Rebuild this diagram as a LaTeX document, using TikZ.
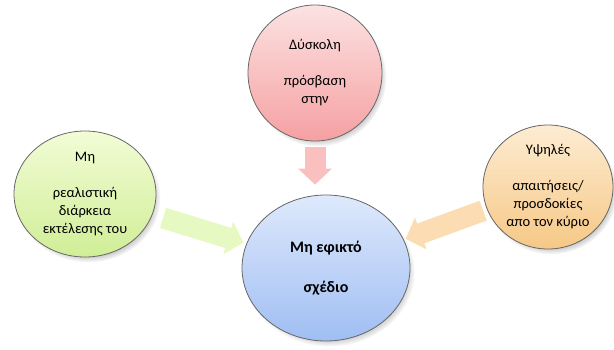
\documentclass[tikz,border=0pt]{standalone}
\usepackage{fontspec}
\setmainfont{Carlito}
\usetikzlibrary{shapes.geometric,arrows.meta,shadows}

\definecolor{redtop}{RGB}{252,226,226}
\definecolor{redbot}{RGB}{246,160,162}
\definecolor{greentop}{RGB}{242,252,214}
\definecolor{greenbot}{RGB}{208,238,150}
\definecolor{bluetop}{RGB}{222,233,252}
\definecolor{bluebot}{RGB}{160,190,243}
\definecolor{orangetop}{RGB}{253,236,210}
\definecolor{orangebot}{RGB}{246,200,134}
\definecolor{redarrow}{RGB}{250,192,192}
\definecolor{greenarrow}{RGB}{230,249,194}
\definecolor{orangearrow}{RGB}{252,220,178}

\begin{document}
\begin{tikzpicture}[x=1pt,y=-1pt,
	bubble/.style={ellipse,draw=black!60,line width=0.8pt,inner sep=0pt,align=center,
		font=\fontsize{14.5}{18}\selectfont,
		circular drop shadow={shadow xshift=3pt,shadow yshift=-4pt,shadow scale=1.02,opacity=0.6}},
	blockarrow/.style={line width=21pt,-{Triangle[width=33pt,length=16pt]}}]
	\useasboundingbox (0,0) rectangle (614,349);
	% the four bubbles
	\node[bubble,minimum width=134pt,minimum height=136pt,top color=redtop,bottom color=redbot] (access) at (315,73) {Δύσκολη\\[18pt]πρόσβαση\\στην};
	\node[bubble,minimum width=142pt,minimum height=126pt,top color=greentop,bottom color=greenbot] (duration) at (85,194) {Μη\\[18pt]ρεαλιστική\\διάρκεια\\εκτέλεσης του};
	\node[bubble,minimum width=130pt,minimum height=124pt,top color=orangetop,bottom color=orangebot] (demands) at (548,187) {Υψηλές\\[18pt]απαιτήσεις/\\προσδοκίες\\απο τον κύριο};
	\node[bubble,minimum width=168pt,minimum height=146pt,top color=bluetop,bottom color=bluebot,font=\bfseries\fontsize{16}{20}\selectfont] (plan) at (326,268) {Μη εφικτό\\[20pt]σχέδιο};
	% arrows into the plan
	\draw[blockarrow,redarrow,shorten <=6pt,shorten >=10pt] (access.south) -- (access.south |- plan.north);
	\draw[blockarrow,greenarrow,shorten <=11pt,shorten >=3pt] (duration) -- (plan);
	\draw[blockarrow,orangearrow,shorten <=4pt,shorten >=2pt] (demands) -- (plan);
\end{tikzpicture}
\end{document}
